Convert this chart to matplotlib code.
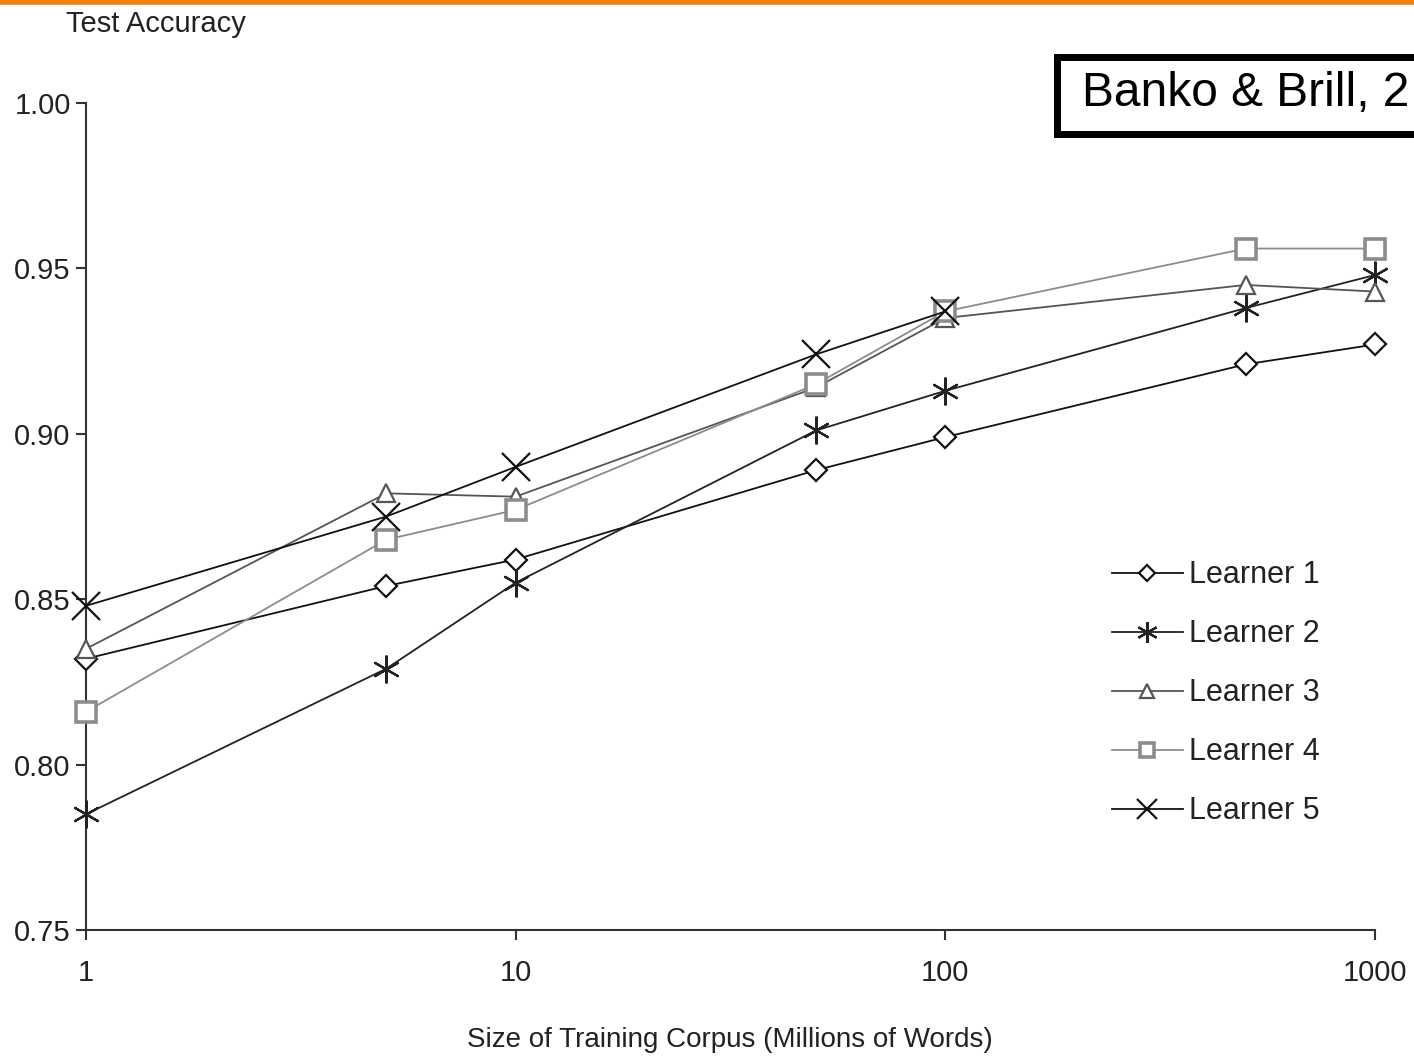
import matplotlib
matplotlib.use("Agg")
import matplotlib.pyplot as plt
from matplotlib.lines import Line2D

plt.rcParams['font.family'] = ['Liberation Sans Narrow', 'Liberation Sans', 'DejaVu Sans']

sizes = [1, 5, 10, 50, 100, 500, 1000]
learner1 = [0.832, 0.854, 0.862, 0.889, 0.899, 0.921, 0.927]
learner2 = [0.785, 0.829, 0.855, 0.901, 0.913, 0.938, 0.948]
learner3 = [0.835, 0.882, 0.881, 0.914, 0.935, 0.945, 0.943]
learner4 = [0.816, 0.868, 0.877, 0.915, 0.937, 0.956, 0.956]
sizes5 = [1, 5, 10, 50, 100]
learner5 = [0.848, 0.875, 0.890, 0.924, 0.937]
labels = ["Learner 1", "Learner 2", "Learner 3", "Learner 4", "Learner 5"]
xticks = [1, 10, 100, 1000]
yticks = [0.75, 0.80, 0.85, 0.90, 0.95, 1.00]

fig = plt.figure(figsize=(14.14, 10.58), dpi=100)
ax = fig.add_axes([86/1414, 1-930/1058, (1375-86)/1414, (930-103)/1058])

asterisk = (6, 2, 0)
styles = [
    dict(x=sizes, y=learner1, color='#111111', marker='D', ms=11, mec='#111111', mew=1.6, mfc='white', lw=1.3),
    dict(x=sizes, y=learner2, color='#222222', marker=asterisk, ms=20, mec='#222222', mew=1.6, mfc='none', lw=1.3),
    dict(x=sizes, y=learner3, color='#555555', marker='^', ms=13, mec='#555555', mew=1.6, mfc='white', lw=1.3),
    dict(x=sizes, y=learner4, color='#8c8c8c', marker='s', ms=14, mec='#8c8c8c', mew=2.6, mfc='white', lw=1.3),
    dict(x=sizes5, y=learner5, color='#111111', marker='x', ms=20, mec='#111111', mew=1.6, mfc='none', lw=1.3),
]
for s, lab in zip(styles, labels):
    ax.plot(s['x'], s['y'], color=s['color'], marker=s['marker'], markersize=s['ms'],
            markeredgecolor=s['mec'], markeredgewidth=s['mew'], markerfacecolor=s['mfc'],
            linewidth=s['lw'], label=lab, clip_on=False, zorder=3)

ax.set_xscale('log')
ax.set_xlim(1, 1000)
ax.set_ylim(0.75, 1.00)
ax.set_xticks(xticks)
ax.set_xticklabels([str(v) for v in xticks])
ax.minorticks_off()
ax.set_yticks(yticks)
ax.set_yticklabels([f"{v:.2f}" for v in yticks])
for sp in ['top', 'right']:
    ax.spines[sp].set_visible(False)
for sp in ['left', 'bottom']:
    ax.spines[sp].set_color('#333333')
    ax.spines[sp].set_linewidth(1.5)
ax.tick_params(axis='both', direction='out', length=7, width=1.5, color='#333333',
               labelsize=21, labelcolor='#222222')
ax.tick_params(axis='x', pad=14)
ax.tick_params(axis='y', pad=4)

fig.text(66/1414, 1-24/1058, "Test Accuracy", fontsize=21, color='#222222', ha='left', va='center')
fig.text(730/1414, 1-1040/1058, "Size of Training Corpus (Millions of Words)", fontsize=20,
         color='#222222', ha='center', va='center')

leg = ax.legend(loc='upper left', bbox_to_anchor=((1100-86)/(1375-86), (930-548)/(930-103)),
                frameon=False, fontsize=22, handlelength=2.3, handletextpad=0.2,
                labelspacing=0.95, borderaxespad=0, markerscale=0.75)
for t in leg.get_texts():
    t.set_color('#222222')

# orange top rule
fig.add_artist(Line2D([0, 1], [1-2/1058, 1-2/1058], transform=fig.transFigure,
                      color='#ff8000', lw=4))
# title box (runs off the right edge, as in the reference)
fig.add_artist(plt.Rectangle((1057/1414, 1-134/1058), 500/1414, 77/1058,
                             transform=fig.transFigure, fill=True, facecolor='white',
                             edgecolor='black', lw=5))
fig.text(1082/1414, 1-94/1058, "Banko & Brill, 2", fontsize=34.5, family=['Liberation Sans', 'DejaVu Sans'],
         ha='left', va='center', color='black')

fig.savefig("out.png", dpi=100)
